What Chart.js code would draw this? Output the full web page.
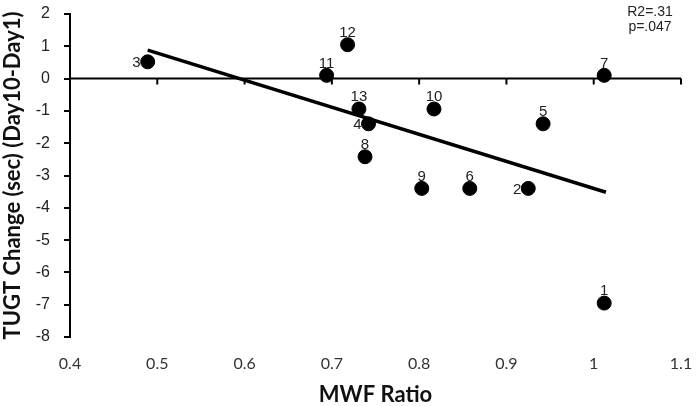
<!DOCTYPE html>
<html>
<head>
<meta charset="utf-8">
<script src="https://cdn.jsdelivr.net/npm/chart.js@4.4.1/dist/chart.umd.min.js"></script>
<style>
  html, body { margin: 0; padding: 0; background: #fff; }
  #wrap { width: 696px; height: 406px; }
</style>
</head>
<body>
<div id="wrap"><canvas id="mwfChart" width="696" height="406"></canvas></div>
<script>
// Subject data
const subjectIds = ['1', '2', '3', '4', '5', '6', '7', '8', '9', '10', '11', '12', '13'];
const mwfRatio   = [1.012, 0.925, 0.489, 0.742, 0.942, 0.858, 1.012, 0.738, 0.803, 0.817, 0.694, 0.718, 0.731];
const tugtChange = [-6.95, -3.4, 0.52, -1.4, -1.4, -3.4, 0.1, -2.42, -3.4, -0.94, 0.1, 1.05, -0.94];

// Regression line end points
const trendX = [0.489, 1.014];
const trendY = [0.88, -3.52];

// Axis ticks
const xTicks = [0.4, 0.5, 0.6, 0.7, 0.8, 0.9, 1.0, 1.1];
const yTicks = [-8, -7, -6, -5, -4, -3, -2, -1, 0, 1, 2];

const statLines = ['R2=.31', 'p=.047'];

// labels drawn to the left of their dot instead of above
const leftLabelled = new Set(['2', '3', '4']);

const zeroLinePlugin = {
    id: 'zeroLine',
    beforeDatasetsDraw(chart) {
        const { ctx, chartArea, scales } = chart;
        const y0 = scales.y.getPixelForValue(0);
        ctx.save();
        ctx.strokeStyle = '#000';
        ctx.lineWidth = 2;
        ctx.beginPath();
        ctx.moveTo(chartArea.left, y0);
        ctx.lineTo(chartArea.right, y0);
        xTicks.forEach(v => {
            const px = scales.x.getPixelForValue(v);
            ctx.moveTo(px, y0);
            ctx.lineTo(px, y0 + 6);
        });
        ctx.stroke();
        ctx.restore();
    }
};

const pointLabelPlugin = {
    id: 'pointLabels',
    afterDatasetsDraw(chart) {
        const { ctx } = chart;
        const meta = chart.getDatasetMeta(0);
        ctx.save();
        ctx.font = '15px "Liberation Sans", Arial, sans-serif';
        ctx.fillStyle = '#222';
        meta.data.forEach((pt, i) => {
            const id = subjectIds[i];
            ctx.textBaseline = 'middle';
            if (leftLabelled.has(id)) {
                ctx.textAlign = 'right';
                ctx.fillText(id, pt.x - 7, pt.y + 1);
            } else {
                ctx.textAlign = 'center';
                ctx.fillText(id, pt.x, pt.y - 12);
            }
        });
        // stats in the top right corner
        ctx.font = '14px "Liberation Sans", Arial, sans-serif';
        ctx.textAlign = 'center';
        ctx.fillText(statLines[0], 650, 12);
        ctx.fillText(statLines[1], 650, 27);
        ctx.restore();
    }
};

const ctx = document.getElementById('mwfChart').getContext('2d');
new Chart(ctx, {
    type: 'scatter',
    data: {
        datasets: [{
            data: mwfRatio.map((x, i) => ({ x: x, y: tugtChange[i] })),
            backgroundColor: '#000',
            borderColor: '#000',
            pointRadius: 7,
            pointHoverRadius: 7
        }, {
            type: 'line',
            data: trendX.map((x, i) => ({ x: x, y: trendY[i] })),
            borderColor: '#000',
            borderWidth: 3.5,
            pointRadius: 0,
            fill: false
        }]
    },
    options: {
        responsive: false,
        animation: false,
        events: [],
        layout: { padding: { left: 0, right: 15, top: 14, bottom: 0 } },
        plugins: {
            legend: { display: false },
            tooltip: { enabled: false }
        },
        scales: {
            x: {
                type: 'linear',
                min: 0.4,
                max: 1.1,
                afterBuildTicks: scale => { scale.ticks = xTicks.map(v => ({ value: v })); },
                afterFit: scale => {
                    scale.height = 69;
                    scale.paddingLeft = 0;
                    scale.paddingRight = 0;
                },
                border: { display: false },
                grid: { display: false, drawTicks: false },
                ticks: {
                    padding: 17,
                    color: '#333',
                    font: { family: 'Lato', size: 16 },
                    callback: v => String(+v.toFixed(1))
                },
                title: {
                    display: true,
                    text: 'MWF Ratio',
                    color: '#111',
                    font: { family: 'Lato', size: 22, weight: 'bold' },
                    padding: { top: 0, bottom: -2 }
                }
            },
            y: {
                type: 'linear',
                min: -8,
                max: 2,
                afterBuildTicks: scale => { scale.ticks = yTicks.map(v => ({ value: v })); },
                afterFit: scale => {
                    scale.width = 70;
                    scale.paddingTop = 0;
                    scale.paddingBottom = 0;
                },
                border: { display: true, color: '#000', width: 2 },
                grid: { drawOnChartArea: false, drawTicks: true, tickLength: 6, color: '#000', lineWidth: 2 },
                ticks: {
                    padding: 14,
                    color: '#222',
                    font: { family: '"Liberation Sans", Arial', size: 16 }
                },
                title: {
                    display: true,
                    text: 'TUGT Change (sec) (Day10-Day1)',
                    color: '#111',
                    font: { family: 'Lato', size: 22, weight: 'bold' },
                    padding: { top: 0, bottom: 0 }
                }
            }
        }
    },
    plugins: [zeroLinePlugin, pointLabelPlugin]
});
</script>
</body>
</html>
